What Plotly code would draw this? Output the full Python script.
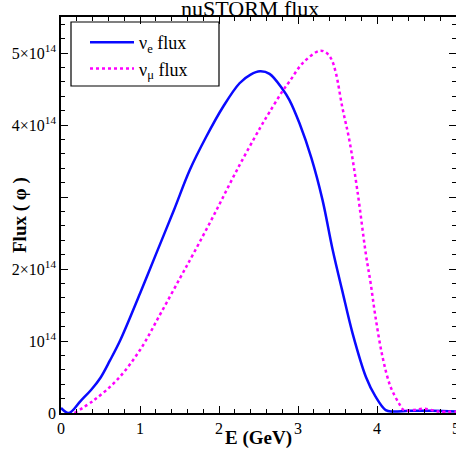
import plotly.graph_objects as go

# nu_e flux (units of 1e14)
E_e = [0, 0.1, 0.25, 0.38, 0.5, 0.62, 0.75, 1.0, 1.2, 1.43, 1.63, 1.84, 2.05, 2.26, 2.40, 2.52, 2.64, 2.81,
       2.89, 3.02, 3.17, 3.31, 3.44, 3.56, 3.69, 3.86, 3.98, 4.11, 4.2, 4.4, 4.7, 5.0]
flux_e = [0.07, 0.0, 0.17, 0.32, 0.49, 0.73, 1.01, 1.66, 2.20, 2.82, 3.375, 3.84, 4.25, 4.58, 4.70, 4.745, 4.71, 4.49,
          4.35, 4.02, 3.54, 2.96, 2.26, 1.70, 1.11, 0.50, 0.23, 0.04, 0.02, 0.03, 0.03, 0.02]

# nu_mu flux (units of 1e14)
E_mu = [0.17, 0.42, 0.71, 1.0, 1.26, 1.51, 1.68, 1.95, 2.22, 2.52, 2.64, 2.81, 2.89, 3.06, 3.27,
        3.35, 3.42, 3.48, 3.56, 3.65, 3.75, 3.86, 3.92, 3.98, 4.07, 4.17, 4.28, 4.34, 4.45, 4.6, 4.78, 5.0]
flux_mu = [0.0, 0.18, 0.46, 0.875, 1.38, 1.88, 2.22, 2.78, 3.36, 3.96, 4.18, 4.48, 4.60, 4.86, 5.03,
           5.01, 4.92, 4.72, 4.25, 3.79, 3.10, 2.20, 1.80, 1.34, 0.78, 0.37, 0.13, 0.04, 0.04, 0.06, 0.02, 0.02]

SCALE = 1e14
y_tickvals = [0, 1, 2, 3, 4, 5]
y_ticktext = ["0", "10<sup>14</sup>", "2×10<sup>14</sup>", "", "4×10<sup>14</sup>", "5×10<sup>14</sup>"]
x_tickvals = [0, 1, 2, 3, 4, 5]

FONT = "Liberation Serif, Times New Roman, serif"

fig = go.Figure()
fig.add_trace(go.Scatter(x=E_e, y=[v * SCALE for v in flux_e], mode="lines",
                         line=dict(color="#0a0aff", width=2.5, shape="spline", smoothing=1.0),
                         name="ν<sub>e</sub> flux"))
fig.add_trace(go.Scatter(x=E_mu, y=[v * SCALE for v in flux_mu], mode="lines",
                         line=dict(color="#ff00ff", width=2.5, dash="dot", shape="spline", smoothing=1.0),
                         name="ν<sub>μ</sub> flux"))

axis_common = dict(showline=True, linecolor="black", linewidth=1.5, mirror="ticks",
                   ticks="inside", ticklen=7, tickwidth=1.2, tickcolor="black",
                   showgrid=False, zeroline=False, automargin=False, ticklabeloverflow="allow",
                   tickfont=dict(family=FONT, size=16, color="black"))

fig.update_xaxes(range=[0, 5], tickvals=x_tickvals,
                 minor=dict(ticks="inside", dtick=0.2, ticklen=4, tickcolor="black", tickwidth=1),
                 **axis_common)
fig.update_yaxes(range=[0, 5.5 * SCALE], tickvals=[v * SCALE for v in y_tickvals], ticktext=y_ticktext,
                 minor=dict(ticks="inside", dtick=0.2 * SCALE, ticklen=4, tickcolor="black", tickwidth=1),
                 **axis_common)

# axis titles
fig.add_annotation(text="<b>E (GeV)</b>", xref="paper", yref="paper", x=0.5, y=(413 - 438) / 396,
                   xanchor="center", yanchor="middle", showarrow=False,
                   font=dict(family=FONT, size=19, color="black"))
fig.add_annotation(text="<b>Flux ( φ )</b>", xref="paper", yref="paper", x=(20 - 61) / 395, y=0.5,
                   xanchor="center", yanchor="middle", textangle=-90, showarrow=False,
                   font=dict(family=FONT, size=19, color="black"))

# legend frame
fig.add_shape(type="rect", xref="paper", yref="paper",
              x0=(71 - 61) / 395, x1=(219 - 61) / 395,
              y0=(413 - 86) / 396, y1=(413 - 22) / 396,
              line=dict(color="black", width=1.2), fillcolor="white", layer="below")

fig.add_annotation(text="nuSTORM flux", xref="paper", yref="paper", x=(250 - 61) / 395,
                   y=(413 - 8) / 396, xanchor="center", yanchor="middle", showarrow=False,
                   font=dict(family=FONT, size=22, color="black"))

fig.update_layout(
    width=456, height=457,
    margin=dict(l=61, r=0, t=17, b=44),
    plot_bgcolor="white", paper_bgcolor="white",
    showlegend=True,
    legend=dict(x=(85 - 61) / 395, y=(413 - 24) / 396, xanchor="left", yanchor="top",
                bgcolor="rgba(0,0,0,0)", borderwidth=0,
                font=dict(family=FONT, size=18, color="black"),
                itemwidth=44, tracegroupgap=0),
    font=dict(family=FONT),
)

fig.write_html("out.html", config={"displayModeBar": False},
               post_script="document.body.style.margin='0';")
